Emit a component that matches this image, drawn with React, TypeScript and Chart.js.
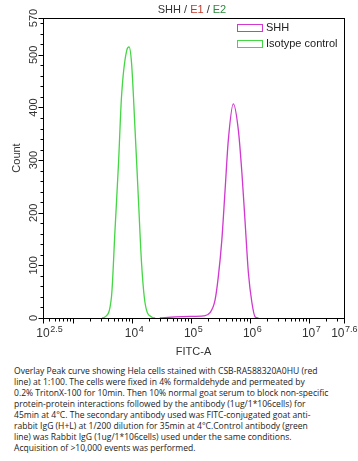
import React, { useEffect, useRef } from 'react';
import { Chart, registerables } from 'chart.js';

Chart.register(...registerables);

// ---- data (x values are log10 of FITC-A intensity) ----
const shhLog = [4.48, 4.74, 4.99, 5.22, 5.33, 5.415, 5.47, 5.53, 5.585, 5.64, 5.725, 5.81, 5.87, 5.925, 5.98, 6.04, 6.095, 6.15];
const shhCount = [0, 2, 3, 4, 10, 34, 78, 148, 243, 338, 407, 357, 276, 181, 86, 29, 2, 0];
const isoLog = [3.5, 3.55, 3.66, 3.72, 3.78, 3.83, 3.92, 3.958, 4.0, 4.06, 4.115, 4.17, 4.23, 4.34, 4.4];
const isoCount = [0, 2, 40, 167, 295, 420, 509, 515, 485, 357, 230, 104, 28, 2, 0];

const seriesNames = ['SHH', 'Isotype control'];
const seriesColors = ['#d038d0', '#44d644'];

const xMinExp = 2.5;
const xMaxExp = 7.6;
const xLabelExps = [2.5, 4, 5, 6, 7, 7.6];
const xLabelSups = ['2.5', '4', '5', '6', '7', '7.6'];
const yMax = 570;
const yLabelValues = [0, 100, 200, 300, 400, 500, 570];

const titleParts = [
  { t: 'SHH', c: '#333333' },
  { t: ' / ', c: '#333333' },
  { t: 'E1', c: '#c0392b' },
  { t: ' / ', c: '#333333' },
  { t: 'E2', c: '#2e8b3e' },
];

const captionLines = [
  'Overlay Peak curve showing Hela cells stained with CSB-RA588320A0HU (red',
  'line) at 1:100. The cells were fixed in 4% formaldehyde and permeated by',
  '0.2% TritonX-100 for 10min. Then 10% normal goat serum to block non-specific',
  'protein-protein interactions followed by the antibody (1ug/1*106cells) for',
  '45min at 4°C. The secondary antibody used was FITC-conjugated goat anti-',
  'rabbit IgG (H+L) at 1/200 dilution for 35min at 4°C.Control antibody (green',
  'line) was Rabbit IgG (1ug/1*106cells) used under the same conditions.',
  'Acquisition of >10,000 events was performed.',
];

const FONT = '"Liberation Sans", Arial, sans-serif';

const decorPlugin = {
  id: 'decor',
  afterDraw(chart: any) {
    const ctx = chart.ctx as CanvasRenderingContext2D;
    const { left, right, top, bottom } = chart.chartArea;
    const xs = chart.scales.x;
    const ys = chart.scales.y;
    ctx.save();
    // frame
    ctx.strokeStyle = '#000';
    ctx.lineWidth = 1;
    ctx.strokeRect(Math.round(left) + 0.5, Math.round(top) + 0.5, Math.round(right - left), Math.round(bottom - top));

    // x ticks
    ctx.beginPath();
    const bY = Math.round(bottom) + 0.5;
    const majorX = [xMinExp, 3, 4, 5, 6, 7, xMaxExp];
    majorX.forEach((e) => {
      const px = Math.round(xs.getPixelForValue(Math.pow(10, e))) + 0.5;
      ctx.moveTo(px, bY);
      ctx.lineTo(px, bY + 5);
    });
    for (let d = 2; d <= 7; d++) {
      for (let k = 2; k <= 9; k++) {
        const v = k * Math.pow(10, d);
        const e = Math.log10(v);
        if (e <= xMinExp || e >= xMaxExp) continue;
        const px = Math.round(xs.getPixelForValue(v)) + 0.5;
        ctx.moveTo(px, bY);
        ctx.lineTo(px, bY + 3);
      }
    }
    // y ticks
    const lX = Math.round(left) + 0.5;
    yLabelValues.forEach((v) => {
      const py = Math.round(ys.getPixelForValue(v)) + 0.5;
      ctx.moveTo(lX, py);
      ctx.lineTo(lX - 5, py);
    });
    for (let v = 20; v < yMax; v += 20) {
      if (v % 100 === 0) continue;
      const py = Math.round(ys.getPixelForValue(v)) + 0.5;
      ctx.moveTo(lX, py);
      ctx.lineTo(lX - 3, py);
    }
    ctx.stroke();

    // x tick labels
    ctx.fillStyle = '#333';
    ctx.textBaseline = 'alphabetic';
    ctx.textAlign = 'left';
    xLabelExps.forEach((e, i) => {
      const px = xs.getPixelForValue(Math.pow(10, e));
      ctx.font = `12px ${FONT}`;
      const bw = ctx.measureText('10').width;
      ctx.font = `9px ${FONT}`;
      const sw = ctx.measureText(xLabelSups[i]).width;
      let x0 = px - bw / 2;
      if (x0 + bw + sw > chart.width - 1) x0 = chart.width - 1 - bw - sw;
      ctx.font = `12px ${FONT}`;
      ctx.fillText('10', x0, 337);
      ctx.font = `9px ${FONT}`;
      ctx.fillText(xLabelSups[i], x0 + bw + 0.5, 332);
    });

    // y tick labels (rotated)
    ctx.font = `11px ${FONT}`;
    ctx.textAlign = 'center';
    yLabelValues.forEach((v) => {
      const py = ys.getPixelForValue(v);
      ctx.save();
      ctx.translate(37, py);
      ctx.rotate(-Math.PI / 2);
      ctx.fillText(String(v), 0, 0);
      ctx.restore();
    });

    // axis titles
    ctx.font = `11px ${FONT}`;
    ctx.textAlign = 'center';
    ctx.fillText('FITC-A', (left + right) / 2, 355);
    ctx.save();
    ctx.translate(20, 158);
    ctx.rotate(-Math.PI / 2);
    ctx.fillText('Count', 0, 0);
    ctx.restore();

    // title
    ctx.font = `11px ${FONT}`;
    ctx.textAlign = 'left';
    const total = titleParts.reduce((s, p) => s + ctx.measureText(p.t).width, 0);
    let tx = 192 - total / 2;
    titleParts.forEach((p) => {
      ctx.fillStyle = p.c;
      ctx.fillText(p.t, tx, 13);
      tx += ctx.measureText(p.t).width;
    });

    // legend
    ctx.font = `11px ${FONT}`;
    ctx.textBaseline = 'middle';
    chart.data.datasets.forEach((ds: any, i: number) => {
      const cy = 27.5 + i * 15.5;
      ctx.fillStyle = '#fff';
      ctx.strokeStyle = ds.borderColor;
      ctx.lineWidth = 1;
      ctx.fillRect(237, Math.round(cy - 3.5), 25, 7);
      ctx.strokeRect(237.5, Math.round(cy - 3.5) + 0.5, 25, 7);
      ctx.fillStyle = '#222';
      ctx.fillText(ds.label, 266, cy + 0.5);
    });
    ctx.restore();
  },
};

export default function App() {
  const ref = useRef<HTMLCanvasElement | null>(null);
  useEffect(() => {
    if (!ref.current) return;
    const chart = new Chart(ref.current, {
      type: 'line',
      data: {
        datasets: [
          {
            label: seriesNames[0],
            data: shhLog.map((e, i) => ({ x: Math.pow(10, e), y: shhCount[i] })),
            borderColor: seriesColors[0],
            borderWidth: 1.3,
            pointRadius: 0,
            fill: false,
            cubicInterpolationMode: 'monotone',
          },
          {
            label: seriesNames[1],
            data: isoLog.map((e, i) => ({ x: Math.pow(10, e), y: isoCount[i] })),
            borderColor: seriesColors[1],
            borderWidth: 1.3,
            pointRadius: 0,
            fill: false,
            cubicInterpolationMode: 'monotone',
          },
        ],
      },
      options: {
        animation: false,
        responsive: false,
        devicePixelRatio: 1,
        layout: { padding: { top: 18, right: 14, left: 0, bottom: 0 } },
        plugins: { legend: { display: false }, title: { display: false }, tooltip: { enabled: false } },
        scales: {
          x: {
            type: 'logarithmic',
            min: Math.pow(10, xMinExp),
            max: Math.pow(10, xMaxExp),
            ticks: { display: false },
            grid: { display: false },
            border: { display: false },
            afterFit: (s: any) => { s.height = 44; },
          },
          y: {
            type: 'linear',
            min: 0,
            max: yMax,
            ticks: { display: false },
            grid: { display: false },
            border: { display: false },
            afterFit: (s: any) => { s.width = 43; },
          },
        },
      } as any,
      plugins: [decorPlugin],
    });
    return () => chart.destroy();
  }, []);

  return (
    <div style={{ position: 'absolute', left: 0, top: 0, width: 358, height: 461, background: '#fff', overflow: 'hidden' }}>
      <canvas ref={ref} width={358} height={362} style={{ display: 'block', width: 358, height: 362 }} />
      <div
        style={{
          position: 'absolute',
          left: 14,
          top: 366,
          fontFamily: '"Open Sans", sans-serif',
          fontSize: 8.55,
          lineHeight: '11px',
          color: '#222',
          whiteSpace: 'pre',
        }}
      >
        {captionLines.join('\n')}
      </div>
    </div>
  );
}
